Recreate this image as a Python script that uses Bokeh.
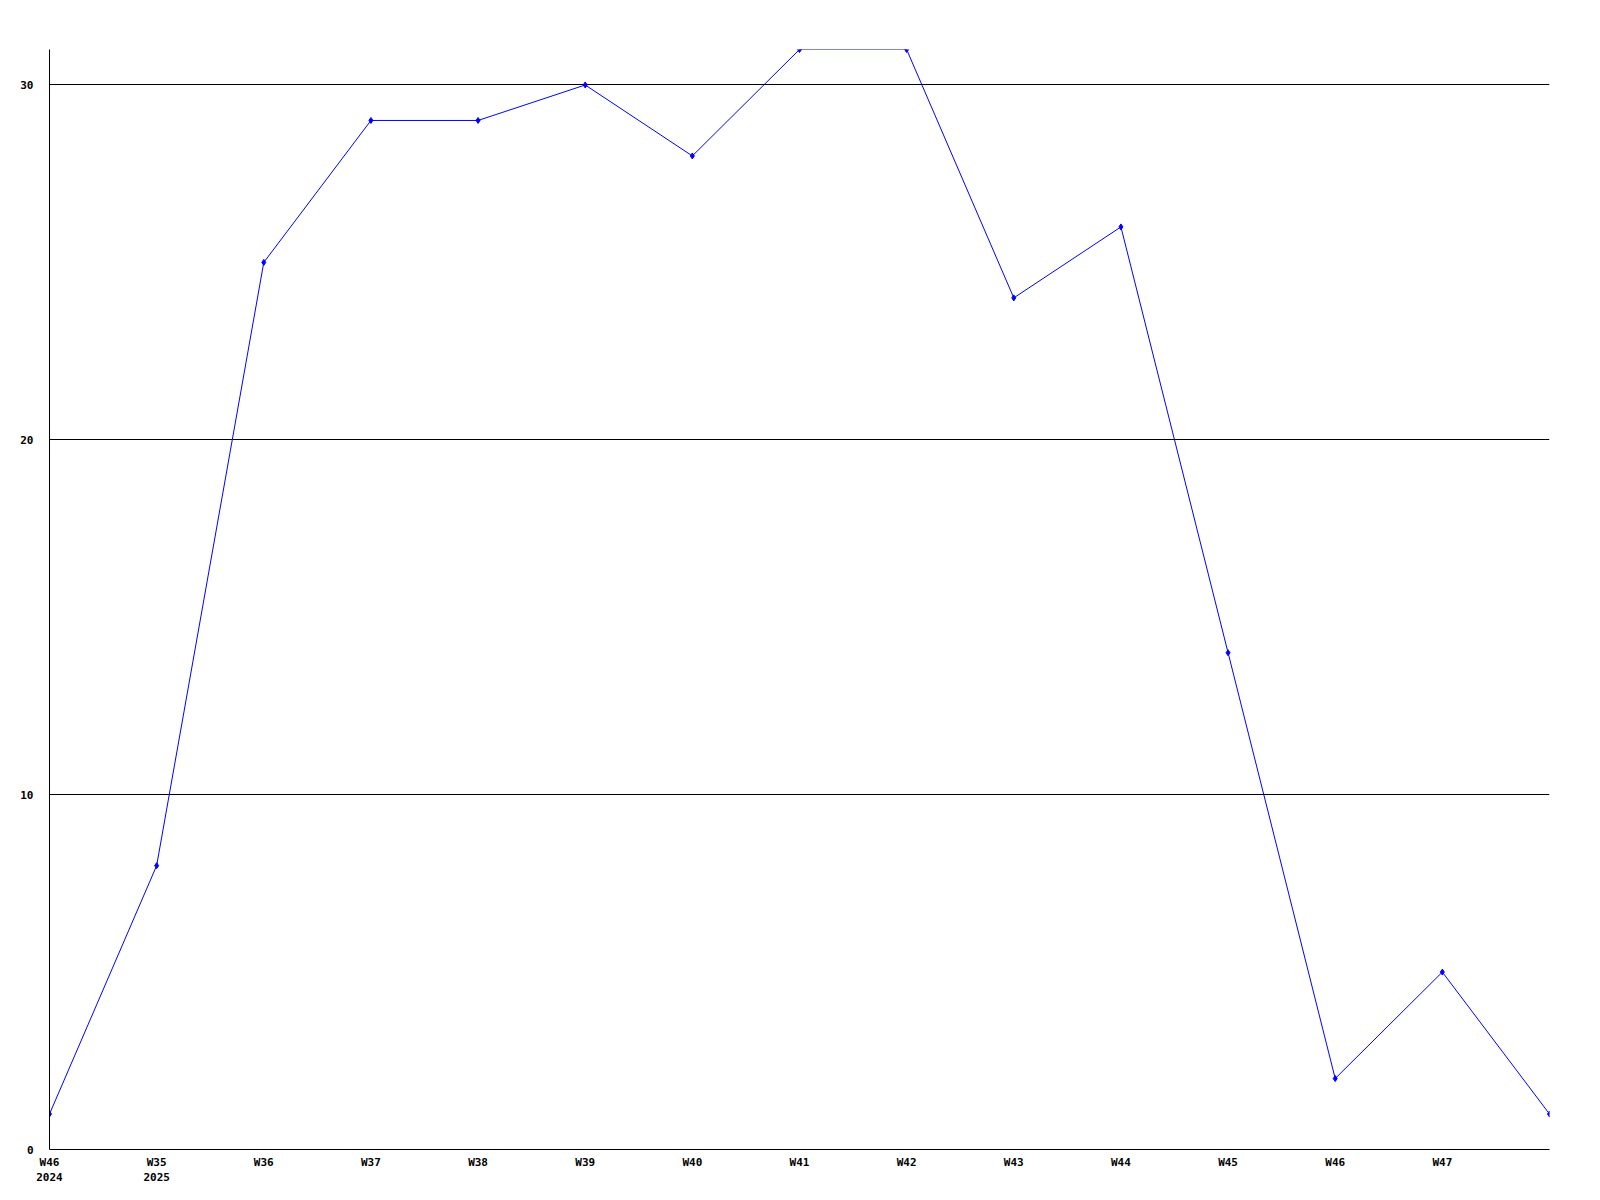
from bokeh.plotting import figure
from bokeh.models import Range1d, FixedTicker
from bokeh.embed import file_html
from bokeh.resources import INLINE

weeks = ["W46\n2024", "W35\n2025", "W36", "W37", "W38", "W39", "W40", "W41",
         "W42", "W43", "W44", "W45", "W46", "W47", ""]
values = [1, 8, 25, 29, 29, 30, 28, 31, 31, 24, 26, 14, 2, 5, 1]
y_ticks = [0, 10, 20, 30]

xs = list(range(len(values)))

p = figure(frame_width=1500, frame_height=1100, output_backend="svg",
           toolbar_location=None, x_range=Range1d(0, len(values) - 1),
           y_range=Range1d(0, 31), min_border_left=49, min_border_top=49,
           min_border_right=27, min_border_bottom=43)
p.outline_line_color = None
p.background_fill_color = "white"
p.border_fill_color = "white"

p.line(xs, values, line_color="#0000ff", line_width=1)
p.scatter(xs, values, marker="diamond", size=6, color="#0000ff")

font = "DejaVu Sans Mono"
p.xaxis.ticker = FixedTicker(ticks=xs[:-1])
p.xaxis.major_label_overrides = {i: w for i, w in enumerate(weeks)}
p.yaxis.ticker = FixedTicker(ticks=y_ticks)
for ax in (p.xaxis, p.yaxis):
    ax.major_tick_line_color = None
    ax.minor_tick_line_color = None
    ax.axis_line_color = "black"
    ax.axis_line_width = 1
    ax.major_label_text_font = font
    ax.major_label_text_font_style = "bold"
    ax.major_label_text_font_size = "11px"
    ax.major_label_text_color = "black"
p.xaxis.major_label_standoff = 0
p.yaxis.major_label_standoff = 10

p.xgrid.grid_line_color = None
p.ygrid.ticker = FixedTicker(ticks=[10, 20, 30])
p.ygrid.grid_line_color = "black"
p.ygrid.grid_line_width = 1

open("out.html", "w").write(file_html(p, INLINE))
